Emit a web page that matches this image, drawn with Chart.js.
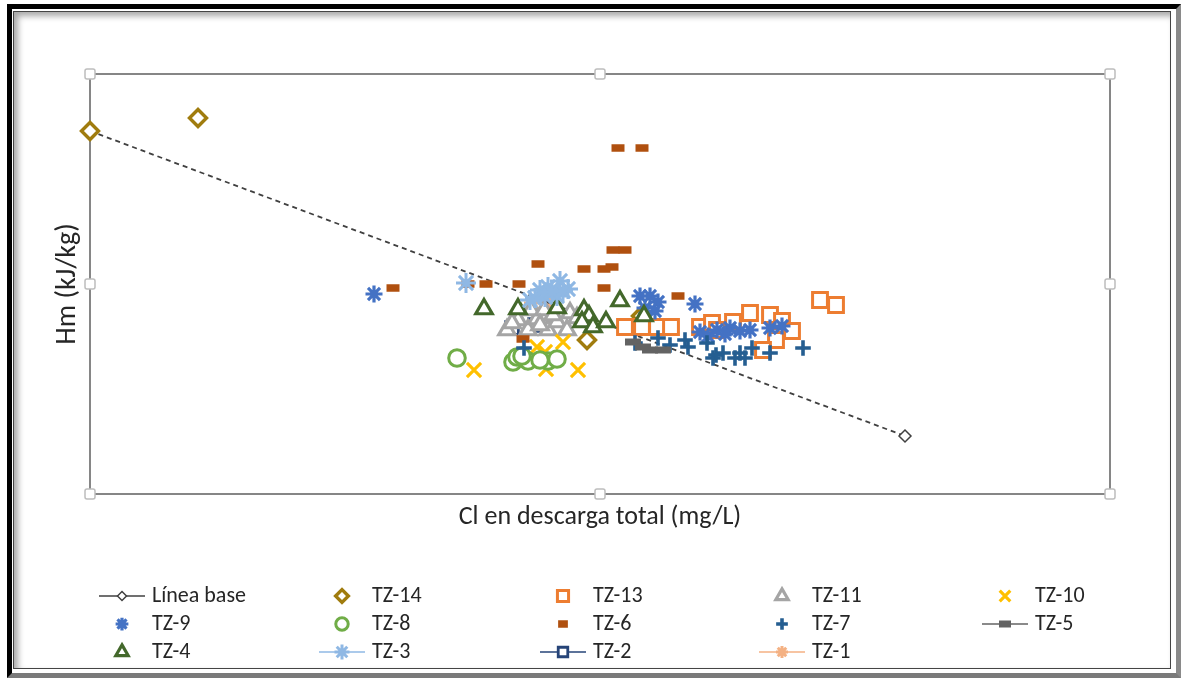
<!DOCTYPE html>
<html>
<head>
<meta charset="utf-8">
<script src="https://cdn.jsdelivr.net/npm/chart.js@4.4.0/dist/chart.umd.min.js"></script>
<style>
  html, body { margin: 0; padding: 0; background: #fff; }
  #frame { position: absolute; left: 7px; top: 4px; width: 1164px; height: 664px;
           border: 5px solid #000; border-right-color: #8a8a8a; border-bottom-color: #7a7a7a; }
  #inner { position: absolute; left: 13px; top: 11px; width: 1156px; height: 656px;
           border: 1px solid #444; box-shadow: inset 4px 4px 6px rgba(0,0,0,0.35); }
  canvas { position: absolute; left: 0; top: 0; }
</style>
</head>
<body>
<div id="frame"></div>
<div id="inner"></div>
<canvas id="chart" width="1188" height="683"></canvas>
<script>
// values (no tick labels in the original, so units are plot units)
const baseX = [0, 815];
const baseY = [363, 58];
const tz14X = [0, 108, 497, 551];
const tz14Y = [363, 376, 154, 178];
const tz13X = [535, 552, 567, 581, 610, 622, 643, 660, 680, 692, 702, 627, 686, 673, 730, 746];
const tz13Y = [167, 167, 167, 167, 167, 171, 172, 181, 179, 173, 163, 164, 154, 144, 194, 189];
const tz11X = [417, 428, 438, 447, 458, 467, 477, 441, 454, 480, 422, 463, 450, 487];
const tz11Y = [164, 174, 164, 175, 164, 172, 164, 184, 184, 181, 171, 179, 169, 176];
const tz10X = [384, 456, 488, 473, 447, 455];
const tz10Y = [124, 125, 124, 152, 147, 142];
const tz9X = [284, 550, 560, 568, 555, 565, 605, 610, 618, 627, 640, 660, 680, 692, 635, 650];
const tz9Y = [200, 198, 198, 192, 186, 183, 190, 162, 158, 164, 166, 164, 166, 168, 160, 163];
const tz8X = [367, 423, 427, 438, 458, 467, 432, 450];
const tz8Y = [136, 132, 137, 133, 133, 135, 138, 134];
const tz6X = [303, 378, 396, 429, 448, 494, 514, 522, 514, 523, 535, 528, 552, 588, 433];
const tz6Y = [206, 210, 210, 210, 230, 225, 225, 227, 206, 244, 244, 346, 346, 198, 155];
const tz7X = [434, 545, 568, 580, 595, 598, 617, 623, 633, 645, 650, 662, 680, 713, 655, 626];
const tz7Y = [146, 151, 156, 149, 154, 147, 151, 136, 141, 136, 141, 146, 141, 146, 136, 139];
const tz5X = [543, 560, 573, 553];
const tz5Y = [152, 144, 144, 147];
const tz4X = [394, 428, 467, 494, 499, 492, 503, 516, 530, 554];
const tz4Y = [185, 185, 186, 184, 178, 172, 167, 172, 193, 178];
const tz3X = [376, 450, 458, 470, 478, 455, 467, 445, 462, 473, 440];
const tz3Y = [211, 204, 207, 213, 205, 197, 198, 196, 202, 203, 194];
const tz2X = [422, 445];
const tz2Y = [166, 169];
const tz1X = [442, 460];
const tz1Y = [191, 192];

const FONT = 'Carlito, "Liberation Sans", Arial, sans-serif';
const TEXT = '#262626';

const pts = (xs, ys) => xs.map((x, i) => ({ x: x, y: ys[i] }));

function series(label, xs, ys, style, color, radius, width, fill, extra) {
    return Object.assign({
        label: label,
        data: pts(xs, ys),
        pointStyle: style,
        pointRadius: radius,
        pointBorderWidth: width,
        borderColor: color,
        backgroundColor: fill,
        showLine: false,
        clip: false
    }, extra || {});
}

// legend order (row by row, 5 per row)
const datasets = [
    series('Línea base', baseX, baseY, 'rectRot', '#404040', 6, 1.5, '#fff',
        { showLine: true, borderDash: [5, 4], borderWidth: 1.8, legendLine: true, order: 12 }),
    series('TZ-14', tz14X, tz14Y, 'rectRot', '#A07C0E', 8.5, 3.4, '#fff', { order: 11 }),
    series('TZ-13', tz13X, tz13Y, 'rect', '#ED7D31', 10.5, 3, '#fff', { order: 10 }),
    series('TZ-11', tz11X, tz11Y, 'triangle', '#A5A5A5', 9.5, 3.2, '#fff', { order: 9 }),
    series('TZ-10', tz10X, tz10Y, 'crossRot', '#FFC000', 10, 3.2, '#FFC000', { order: 8 }),
    series('TZ-9', tz9X, tz9Y, 'star', '#4472C4', 8.5, 3.2, '#4472C4', { order: 7 }),
    series('TZ-8', tz8X, tz8Y, 'circle', '#70AD47', 8.3, 3, '#fff', { order: 6 }),
    series('TZ-6', tz6X, tz6Y, 'line', '#B0500F', 6.5, 7.5, '#B0500F', { order: 5 }),
    series('TZ-7', tz7X, tz7Y, 'cross', '#255E91', 7.8, 3.6, '#255E91', { order: 4 }),
    series('TZ-5', tz5X, tz5Y, 'line', '#636363', 8, 7, '#636363', { legendLine: true, order: 3 }),
    series('TZ-4', tz4X, tz4Y, 'triangle', '#43682B', 9.5, 3.2, '#fff', { order: 2 }),
    series('TZ-3', tz3X, tz3Y, 'star', '#8FB8E4', 10, 3, '#8FB8E4', { legendLine: true, order: 1 }),
    series('TZ-2', tz2X, tz2Y, 'rect', '#264478', 9, 2.8, '#fff', { legendLine: true, order: 14 }),
    series('TZ-1', tz1X, tz1Y, 'star', '#F4B183', 8, 3, '#F4B183', { legendLine: true, order: 13 })
];

const legendCols = [122, 342, 563, 782, 1005];
const legendRows = [596, 624, 652];

const gridLegend = {
    id: 'gridLegend',
    afterDraw(chart) {
        const ctx = chart.ctx;
        ctx.save();
        chart.data.datasets.forEach((ds, i) => {
            const mx = legendCols[i % 5];
            const my = legendRows[Math.floor(i / 5)];
            ctx.setLineDash([]);
            if (ds.legendLine) {
                ctx.strokeStyle = ds.borderColor;
                ctx.lineWidth = 1.5;
                ctx.beginPath();
                ctx.moveTo(mx - 23, my);
                ctx.lineTo(mx + 23, my);
                ctx.stroke();
            }
            ctx.fillStyle = ds.backgroundColor;
            ctx.strokeStyle = ds.borderColor;
            ctx.lineWidth = ds.pointBorderWidth;
            Chart.helpers.drawPoint(ctx, {
                pointStyle: ds.pointStyle,
                radius: ds.pointRadius * 0.75,
                borderWidth: ds.pointBorderWidth,
                rotation: 0
            }, mx, my);
            ctx.fillStyle = TEXT;
            ctx.font = '22px ' + FONT;
            ctx.textBaseline = 'middle';
            ctx.fillText(ds.label, mx + 30, my);
        });
        ctx.restore();
    }
};

// plot area border and the little selection handles
const plotFrame = {
    id: 'plotFrame',
    beforeDatasetsDraw(chart) {
        const { ctx, chartArea: a } = chart;
        ctx.save();
        ctx.strokeStyle = '#868686';
        ctx.lineWidth = 2;
        ctx.strokeRect(a.left, a.top, a.right - a.left, a.bottom - a.top);
        ctx.restore();
    },
    afterDraw(chart) {
        const { ctx, chartArea: a } = chart;
        const mx = Math.round((a.left + a.right) / 2);
        const my = Math.round((a.top + a.bottom) / 2);
        const handles = [[a.left, a.top], [mx, a.top], [a.right, a.top], [a.left, my], [a.right, my],
                         [a.left, a.bottom], [mx, a.bottom], [a.right, a.bottom]];
        ctx.save();
        ctx.fillStyle = '#fff';
        ctx.strokeStyle = '#BDBDBD';
        ctx.lineWidth = 1.5;
        handles.forEach(([x, y]) => {
            ctx.beginPath();
            ctx.roundRect(x - 5, y - 5, 10, 10, 2);
            ctx.fill();
            ctx.stroke();
        });
        ctx.restore();
    }
};

new Chart(document.getElementById('chart'), {
    type: 'scatter',
    data: { datasets: datasets },
    options: {
        responsive: false,
        animation: false,
        devicePixelRatio: 1,
        events: [],
        layout: { padding: { left: 51.2, top: 74, right: 78, bottom: 150.4 } },
        plugins: { legend: { display: false }, tooltip: { enabled: false } },
        scales: {
            x: {
                type: 'linear', min: 0, max: 1020,
                ticks: { display: false },
                grid: { display: false, drawTicks: false },
                border: { display: false },
                title: { display: true, text: 'Cl en descarga total (mg/L)', color: TEXT,
                         font: { family: FONT, size: 26 }, padding: { top: 7.4, bottom: 0 } }
            },
            y: {
                type: 'linear', min: 0, max: 420,
                ticks: { display: false },
                grid: { display: false, drawTicks: false },
                border: { display: false },
                title: { display: true, text: 'Hm (kJ/kg)', color: TEXT,
                         font: { family: FONT, size: 28 }, padding: { top: 0, bottom: 5.2 } }
            }
        }
    },
    plugins: [plotFrame, gridLegend]
});
</script>
</body>
</html>
